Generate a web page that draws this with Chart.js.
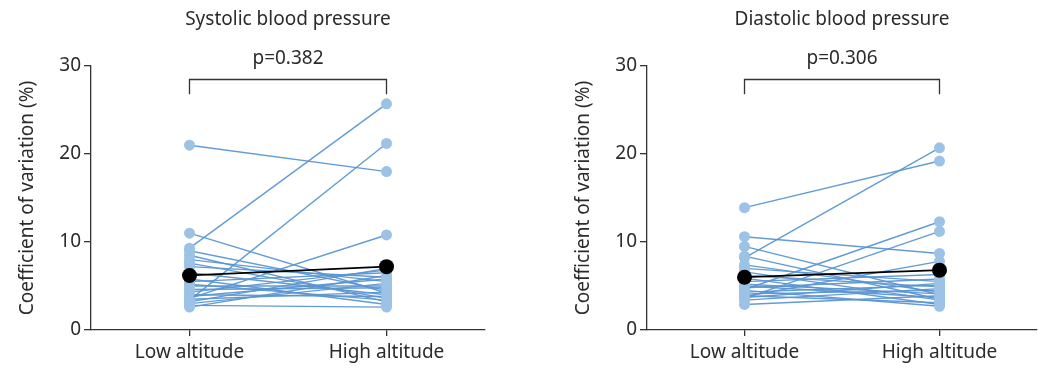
<!DOCTYPE html>
<html>
<head>
<meta charset="utf-8">
<script src="https://cdn.jsdelivr.net/npm/chart.js@4.4.1/dist/chart.umd.min.js"></script>
<style>
  html, body { margin: 0; padding: 0; background: #fff; }
  .wrap { position: relative; width: 1038px; height: 369px; }
  .panel { position: absolute; top: 0; width: 519px; height: 369px; }
</style>
</head>
<body>
<div class="wrap">
  <div class="panel" style="left:0"><canvas id="sbp"></canvas></div>
  <div class="panel" style="left:519px"><canvas id="dbp"></canvas></div>
</div>
<script>
// x categories
const groups = ['Low altitude', 'High altitude'];
const yTicks = [0, 10, 20, 30];

// Systolic: coefficient of variation (%) per subject
const sbpLow  = [21.0, 9.3, 3.4, 11.0, 3.6, 9.0, 8.5, 8.0, 7.6, 7.2, 6.5, 5.8, 5.5, 5.2, 5.0, 4.6, 4.3, 4.0, 3.8, 3.5, 3.2, 3.0, 2.8, 2.6];
const sbpHigh = [18.0, 25.7, 21.2, 4.2, 10.8, 4.5, 3.2, 5.5, 3.6, 6.0, 4.0, 2.9, 6.5, 3.4, 5.0, 4.8, 6.8, 3.8, 5.8, 4.3, 7.0, 5.3, 2.6, 6.2];
const sbpMean = [6.2, 7.2];
const sbpP = 'p=0.382';

// Diastolic
const dbpLow  = [13.9, 8.2, 10.6, 9.5, 4.6, 3.6, 8.4, 3.8, 7.4, 7.0, 6.6, 6.2, 5.9, 5.5, 5.2, 5.0, 4.8, 4.5, 4.3, 4.1, 3.9, 3.7, 3.4, 2.9];
const dbpHigh = [19.2, 20.7, 8.7, 4.0, 12.3, 11.2, 3.5, 7.8, 4.3, 5.5, 3.4, 4.9, 2.9, 6.3, 4.1, 3.7, 5.8, 2.7, 5.1, 4.5, 3.1, 5.3, 4.7, 3.9];
const dbpMean = [6.0, 6.8];
const dbpP = 'p=0.306';

const FONT = '"Noto Sans", sans-serif';
const TEXT = '#2b2b2b';
const AXIS = '#333333';
const SIZE = 19;

// title, bracket and p value drawn above the plot
const annotate = {
  id: 'annotate',
  afterDraw(chart) {
    const o = chart.options.plugins.annotate;
    const ctx = chart.ctx;
    const xs = chart.scales.x, ys = chart.scales.y;
    const x0 = xs.getPixelForValue(0), x1 = xs.getPixelForValue(1);
    const cx = (chart.chartArea.left + chart.chartArea.right) / 2;
    ctx.save();
    ctx.fillStyle = TEXT;
    ctx.textAlign = 'center';
    ctx.textBaseline = 'middle';
    ctx.font = SIZE + 'px ' + FONT;
    ctx.fillText(o.title, cx, 20);
    ctx.fillText(o.p, (x0 + x1) / 2, ys.getPixelForValue(30.8));
    const top = Math.round(ys.getPixelForValue(28.5)) + 0.5;
    const bot = ys.getPixelForValue(26.8);
    ctx.strokeStyle = AXIS;
    ctx.lineWidth = 1.3;
    ctx.beginPath();
    ctx.moveTo(x0, bot);
    ctx.lineTo(x0, top);
    ctx.lineTo(x1, top);
    ctx.lineTo(x1, bot);
    ctx.stroke();
    ctx.restore();
  }
};

function makeChart(id, low, high, mean, title, p, padLeft, padRight) {
  const subjects = low.map((v, i) => ({
    data: [{ x: 0, y: v }, { x: 1, y: high[i] }],
    borderColor: 'rgba(91,150,210,0.95)',
    borderWidth: 1.4,
    pointBackgroundColor: '#9cc2e6',
    pointBorderWidth: 0,
    pointRadius: 5.5,
    order: 1
  }));
  const meanSet = {
    data: mean.map((v, i) => ({ x: i, y: v })),
    borderColor: '#000',
    borderWidth: 1.8,
    pointBackgroundColor: '#000',
    pointBorderWidth: 0,
    pointRadius: 7.5,
    order: 0
  };
  return new Chart(document.getElementById(id), {
    type: 'line',
    data: { datasets: [meanSet, ...subjects] },
    plugins: [annotate],
    options: {
      responsive: true,
      maintainAspectRatio: false,
      animation: false,
      layout: { autoPadding: false, padding: { top: 66, left: padLeft, right: padRight, bottom: 0 } },
      plugins: {
        legend: { display: false },
        tooltip: { enabled: false },
        annotate: { title: title, p: p }
      },
      elements: { line: { tension: 0 } },
      scales: {
        x: {
          type: 'linear',
          min: -0.5,
          max: 1.5,
          afterBuildTicks: s => { s.ticks = groups.map((_, i) => ({ value: i })); },
          afterFit: s => { s.height = 39; s.paddingLeft = 0; s.paddingRight = 0; },
          ticks: {
            callback: v => groups[v],
            color: TEXT,
            font: { family: FONT, size: SIZE },
            padding: 5,
            maxRotation: 0
          },
          grid: { drawOnChartArea: false, drawTicks: true, tickLength: 6, color: AXIS, lineWidth: 1.3 },
          border: { display: true, color: AXIS, width: 1.3 }
        },
        y: {
          min: 0,
          max: 30,
          afterBuildTicks: s => { s.ticks = yTicks.map(v => ({ value: v })); },
          afterFit: s => { s.width = 91; },
          ticks: {
            color: TEXT,
            font: { family: FONT, size: SIZE },
            padding: 3
          },
          grid: { drawOnChartArea: false, drawTicks: true, tickLength: 7, color: AXIS, lineWidth: 1.3 },
          border: { display: true, color: AXIS, width: 1.3 },
          title: {
            display: true,
            text: 'Coefficient of variation (%)',
            color: TEXT,
            font: { family: FONT, size: SIZE },
            padding: { top: 16, bottom: 0 }
          }
        }
      }
    }
  });
}

makeChart('sbp', sbpLow, sbpHigh, sbpMean, 'Systolic blood pressure', sbpP, 0, 34);
makeChart('dbp', dbpLow, dbpHigh, dbpMean, 'Diastolic blood pressure', dbpP, 37, 1);
</script>
</body>
</html>
